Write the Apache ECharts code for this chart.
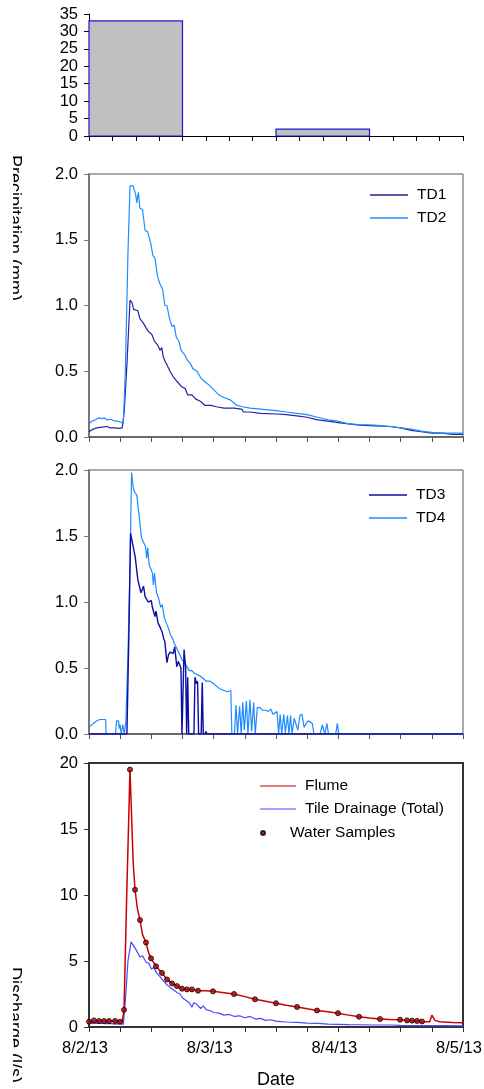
<!DOCTYPE html>
<html><head><meta charset="utf-8">
<script src="https://cdn.jsdelivr.net/npm/echarts@6/dist/echarts.min.js"></script>
<style>html,body{margin:0;padding:0;background:#fff}#c{width:484px;height:1089px}</style>
</head><body><div id="c"></div><script>
// ---- data ----
const precipValues = [33, 0, 2, 0];            // precipitation per bin (mm)
const xLabels = ['8/2/13', '8/3/13', '8/4/13', '8/5/13'];  // day labels (hours 0,24,48,72)
const td1 = [[0,0.04],[0.8,0.06],[1.5,0.07],[2.5,0.075],[3.5,0.08],[4,0.07],[5,0.07],[5.8,0.065],[6.4,0.07],[6.8,0.2],[7.3,0.55],[7.9,1.04],[8.3,1.02],[8.6,0.97],[9.4,0.96],[9.8,0.9],[10.4,0.87],[11,0.83],[11.5,0.8],[12.1,0.78],[12.6,0.73],[13.2,0.7],[13.7,0.66],[14,0.68],[14.3,0.61],[14.7,0.57],[15,0.55],[15.6,0.5],[16.2,0.46],[17,0.42],[17.9,0.38],[18.5,0.37],[19,0.32],[19.8,0.32],[20.5,0.29],[21.5,0.27],[22.3,0.24],[23.5,0.24],[24.5,0.23],[26,0.22],[28,0.22],[29.5,0.21],[29.7,0.19],[31,0.19],[33,0.18],[36,0.175],[38,0.17],[40,0.16],[42,0.15],[44,0.13],[46,0.12],[48,0.11],[50,0.1],[52,0.09],[55,0.085],[58,0.08],[60,0.07],[62,0.05],[64,0.04],[66,0.03],[68,0.03],[70,0.02],[72,0.02]];
const td2 = [[0,0.1],[0.5,0.12],[1.2,0.13],[1.8,0.145],[2.5,0.14],[3,0.145],[3.5,0.13],[4.2,0.135],[5,0.12],[5.6,0.12],[6.2,0.11],[6.6,0.1],[7,0.5],[7.5,1.4],[7.9,1.91],[8.5,1.91],[9,1.84],[9.2,1.78],[9.5,1.86],[9.8,1.74],[10.3,1.73],[10.8,1.57],[11.3,1.56],[11.9,1.47],[12.3,1.38],[12.7,1.36],[13.2,1.22],[13.7,1.16],[14.2,1.12],[14.6,1],[15,1],[15.5,0.9],[16,0.84],[16.4,0.85],[16.8,0.76],[17.3,0.73],[17.7,0.66],[18.1,0.64],[18.5,0.62],[19,0.58],[19.5,0.56],[20,0.52],[20.8,0.5],[21.5,0.45],[22.3,0.42],[23,0.4],[24,0.36],[25,0.32],[26,0.3],[27.3,0.28],[28.5,0.24],[29.5,0.23],[31,0.22],[33.5,0.21],[36,0.2],[38,0.19],[40,0.18],[42,0.17],[44,0.15],[46,0.13],[48,0.12],[50,0.1],[52,0.095],[55,0.09],[58,0.08],[60,0.07],[62,0.06],[64,0.045],[66,0.035],[68,0.03],[70,0.03],[72,0.03]];
const td3 = [[0,0],[7.3,0],[7.7,0.8],[8,1.52],[8.3,1.53],[8.9,1.34],[9.4,1.17],[10,1.07],[10.5,1.12],[10.8,1.04],[11.4,1],[12,1.01],[12.2,0.96],[12.7,0.89],[12.9,0.93],[13.3,0.84],[13.8,0.8],[14.1,0.77],[14.4,0.72],[14.6,0.7],[15,0.54],[15.3,0.6],[15.6,0.62],[16.2,0.61],[16.5,0.66],[16.9,0.51],[17.2,0.55],[17.5,0.56],[17.7,0.5],[17.9,0],[18.1,0],[18.3,0.64],[18.6,0.5],[18.8,0],[19,0.43],[19.2,0],[20.2,0],[20.4,0.43],[20.7,0.38],[20.9,0.4],[21.1,0],[21.6,0],[21.8,0.39],[22,0],[22.4,0],[22.5,0.02],[22.7,0],[72,0]];
const td4 = [[0,0.05],[0.8,0.08],[1.5,0.1],[2.1,0.11],[2.7,0.11],[3.2,0.11],[3.3,0],[5.1,0],[5.3,0.1],[5.7,0.1],[5.8,0.04],[6,0.07],[6.2,0],[6.5,0.07],[6.8,0],[7.1,0.1],[7.5,0.6],[7.9,1.3],[8.2,1.98],[8.5,1.87],[8.8,1.83],[9.2,1.81],[9.6,1.67],[9.9,1.56],[10.1,1.49],[10.5,1.45],[10.9,1.42],[11.1,1.33],[11.3,1.41],[11.6,1.28],[11.9,1.27],[12.2,1.22],[12.4,1.13],[12.6,1.22],[13,1.07],[13.4,1.03],[13.8,0.96],[14.1,0.98],[14.5,0.88],[14.9,0.84],[15.3,0.8],[15.7,0.75],[16,0.73],[16.5,0.68],[17,0.64],[17.5,0.6],[17.9,0.56],[18.3,0.55],[18.7,0.52],[19.3,0.48],[19.8,0.48],[20.3,0.46],[20.8,0.45],[21.4,0.44],[22,0.42],[22.6,0.4],[23.3,0.4],[24,0.38],[24.6,0.36],[25.3,0.34],[26,0.33],[26.7,0.32],[27.3,0.33],[27.5,0],[28,0],[28.3,0.22],[28.6,0],[29,0.21],[29.3,0],[29.6,0.24],[29.9,0.03],[30.3,0.25],[30.6,0],[31,0.26],[31.3,0.02],[31.7,0.24],[32,0],[32.4,0.2],[32.9,0.2],[33.4,0.18],[34,0.18],[34.5,0.17],[35,0.19],[35.4,0.15],[35.8,0.16],[36.2,0.17],[36.5,0],[36.8,0.15],[37.1,0],[37.5,0.15],[37.8,0.01],[38.2,0.14],[38.5,0],[38.8,0.14],[39.1,0],[39.5,0.12],[39.8,0.13],[40.2,0.03],[40.6,0.14],[41,0.15],[41.4,0.05],[41.8,0.08],[42.2,0.1],[42.6,0.09],[43,0.08],[43.3,0],[44.5,0],[44.9,0.07],[45.2,0.06],[45.4,0],[45.8,0.08],[46.1,0],[47.5,0],[47.8,0.08],[48.1,0],[72,0]];
const flume = [[0,0.4],[1,0.45],[2,0.45],[2.9,0.45],[3.9,0.45],[5,0.45],[6,0.4],[6.4,0.4],[6.74,1.3],[7.2,9],[7.89,19.5],[8.2,16],[8.5,12.5],[8.86,10.4],[9.3,9],[9.82,8.1],[10.3,7],[10.97,6.4],[11.5,5.6],[11.94,5.2],[12.9,4.6],[14.05,4.1],[15.02,3.6],[15.98,3.3],[16.94,3.1],[17.91,2.9],[18.87,2.85],[19.83,2.85],[20.99,2.75],[22.5,2.75],[23.87,2.7],[26,2.6],[27.92,2.5],[30,2.3],[31.96,2.1],[34,1.95],[36,1.8],[38,1.65],[40.05,1.52],[42,1.38],[43.9,1.25],[46,1.15],[47.94,1.05],[50,0.9],[51.98,0.78],[54,0.68],[56.03,0.6],[58,0.57],[59.88,0.55],[61.22,0.5],[62.19,0.48],[63.15,0.46],[64.11,0.42],[65,0.4],[65.6,0.4],[66,0.9],[66.6,0.5],[67.5,0.4],[70,0.35],[72,0.32]];
const tileTotal = [[0,0.3],[1,0.28],[2,0.3],[3,0.25],[4,0.28],[5,0.22],[6,0.25],[6.6,0.2],[7,2],[7.5,5],[8.1,6.45],[8.5,6.2],[9,5.9],[9.8,5.3],[10.3,5.4],[11,4.9],[11.5,4.85],[12,4.4],[12.5,4.5],[13,4.1],[13.7,3.8],[14.3,3.5],[15,3.2],[15.6,3],[16.3,2.8],[17,2.6],[17.5,2.5],[18,2.2],[18.7,2],[19.4,1.8],[19.8,1.5],[20.2,1.85],[20.8,1.7],[21.5,1.4],[22,1.6],[22.6,1.3],[23.3,1.25],[24,1.1],[25,1.05],[26,0.9],[27,0.95],[28,0.8],[29,0.85],[30,0.7],[31,0.8],[32,0.6],[33,0.65],[34,0.5],[35,0.55],[36,0.45],[37,0.4],[38,0.38],[40,0.35],[42,0.3],[44,0.28],[46,0.22],[48,0.2],[50,0.18],[52,0.17],[55,0.15],[58,0.15],[60,0.12],[64,0.1],[68,0.1],[72,0.08]];
const samples = [[0,0.4],[0.96,0.5],[1.93,0.45],[2.89,0.45],[3.85,0.45],[5.01,0.45],[5.97,0.4],[6.74,1.3],[7.89,19.5],[8.86,10.4],[9.82,8.1],[10.97,6.4],[11.94,5.2],[12.9,4.6],[14.05,4.1],[15.02,3.6],[15.98,3.3],[16.94,3.1],[17.91,2.9],[18.87,2.85],[19.83,2.85],[20.99,2.75],[23.87,2.7],[27.92,2.5],[31.96,2.1],[36,1.8],[40.05,1.52],[43.9,1.25],[47.94,1.05],[51.98,0.78],[56.03,0.6],[59.88,0.55],[61.22,0.5],[62.19,0.48],[63.15,0.46],[64.11,0.42]];

// ---- chart ----
const FONT = '"Liberation Sans", Arial, sans-serif';
const chart = echarts.init(document.getElementById('c'), null, {renderer: 'canvas'});
const LINE_ICON = 'path://M0,0L38,0L38,1.3L0,1.3Z';

const L = 89, R = 21;
function yAx(gi, max, interval, dec, lineColor, lw) {
  return {
    type: 'value', gridIndex: gi, min: 0, max: max, interval: interval,
    axisLine: {show: true, lineStyle: {color: lineColor, width: lw}},
    axisTick: {show: true, length: 5, lineStyle: {color: lineColor, width: 1}},
    axisLabel: {fontSize: 16.5, color: '#000', fontFamily: FONT, margin: 11,
      formatter: v => dec ? v.toFixed(1) : String(v)},
    splitLine: {show: false}
  };
}
function tAx(gi, labels, lineColor, lw) {
  return {
    type: 'value', gridIndex: gi, min: 0, max: 72, interval: 6,
    axisLine: {show: true, onZero: false, lineStyle: {color: lineColor, width: lw}},
    axisTick: {show: true, length: 5, lineStyle: {color: lineColor, width: 1}},
    axisLabel: {show: labels, fontSize: 16.5, color: '#000', fontFamily: FONT, margin: 13,
      padding: [0, 8, 0, 0], hideOverlap: false,
      showMinLabel: true, showMaxLabel: true,
      formatter: v => (v % 24 === 0 ? xLabels[v / 24] : '')},
    splitLine: {show: false},
    name: labels ? 'Date' : '', nameLocation: 'middle', nameGap: 44,
    nameTextStyle: {fontSize: 18, color: '#000', fontFamily: FONT}
  };
}
function lineS(name, data, color, xi, yi, w) {
  return {type: 'line', name: name, data: data, xAxisIndex: xi, yAxisIndex: yi,
    symbol: 'none', showSymbol: false, animation: false,
    lineStyle: {color: color, width: w || 1.2}, itemStyle: {color: color}};
}
function leg(names, left, top, w, h, icon) {
  return {data: names, left: left, top: top, orient: 'vertical', padding: 0,
    itemWidth: w, itemHeight: h, itemGap: 7, icon: icon,
    textStyle: {fontSize: 15.5, fontFamily: FONT, color: '#000', padding: [0, 0, 0, 4]}};
}
function grid(top, h, show, bc, bw) {
  return {left: L, right: R, top: top, height: h, show: show, borderColor: bc, borderWidth: bw,
    containLabel: false, outerBoundsMode: 'none'};
}

const option = {
  animation: false,
  backgroundColor: '#fff',
  grid: [
    grid(14, 122, false, '#000', 0),
    grid(174, 263, true, '#555', 1),
    grid(470, 264, true, '#555', 1),
    grid(763, 264, true, '#333', 2)
  ],
  xAxis: [
    {type: 'value', gridIndex: 0, min: 0, max: 4, interval: 0.25,
      axisLine: {show: true, onZero: false, lineStyle: {color: '#000', width: 1}},
      axisTick: {show: true, length: 5, lineStyle: {color: '#000'}},
      axisLabel: {show: false}, splitLine: {show: false}},
    tAx(1, false, '#555', 1.5),
    tAx(2, false, '#555', 1.5),
    tAx(3, true, '#333', 2)
  ],
  yAxis: [
    yAx(0, 35, 5, false, '#000', 1),
    yAx(1, 2, 0.5, true, '#777', 2),
    yAx(2, 2, 0.5, true, '#777', 2),
    yAx(3, 20, 5, false, '#333', 2)
  ],
  legend: [
    leg(['TD1', 'TD2'], 370, 187, 38, 14, LINE_ICON),
    leg(['TD3', 'TD4'], 369, 487, 38, 14, LINE_ICON),
    leg(['Flume', 'Tile Drainage (Total)'], 260, 778, 36, 14, LINE_ICON),
    leg(['Water Samples'], 260, 825, 36, 4, 'circle')
  ],
  series: [
    {type: 'custom', name: 'Precipitation', xAxisIndex: 0, yAxisIndex: 0,
      data: precipValues.map((v, i) => [i, v]),
      renderItem: function (params, api) {
        const i = api.value(0), v = api.value(1);
        if (!v) return null;
        const p0 = api.coord([i, 0]), p1 = api.coord([i + 1, v]);
        return {type: 'rect', shape: {x: p0[0], y: p1[1], width: p1[0] - p0[0], height: p0[1] - p1[1]},
          style: {fill: '#C0C0C0', stroke: '#1A1ACC', lineWidth: 1.2}};
      }},
    lineS('TD1', td1, '#24249E', 1, 1),
    lineS('TD2', td2, '#1E8CFF', 1, 1),
    lineS('TD4', td4, '#1E8CFF', 2, 2),
    lineS('TD3', td3, '#0C0CA6', 2, 2, 1.4),
    lineS('Tile Drainage (Total)', tileTotal, '#4848FF', 3, 3),
    lineS('Flume', flume, '#C80000', 3, 3, 1.5),
    {type: 'scatter', name: 'Water Samples', data: samples, xAxisIndex: 3, yAxisIndex: 3,
      symbol: 'circle', symbolSize: 5, z: 5,
      itemStyle: {color: '#C00000', borderColor: '#000', borderWidth: 1}}
  ],
  graphic: [
    {type: 'text', x: 14, y: 228, rotation: -Math.PI / 2, z: 1,
      style: {text: 'Precipitation (mm)', font: '18px "Liberation Sans", Arial', fill: '#000', align: 'center', verticalAlign: 'middle'}},
    {type: 'text', x: 14, y: 967, rotation: -Math.PI / 2, z: 1,
      style: {text: 'Discharge (l/s)', font: '18px "Liberation Sans", Arial', fill: '#000', align: 'left', verticalAlign: 'middle'}},
    {type: 'rect', shape: {x: 0, y: 0, width: 13, height: 1089}, z: 100, style: {fill: '#fff'}}
  ]
};
chart.setOption(option);
</script></body></html>
